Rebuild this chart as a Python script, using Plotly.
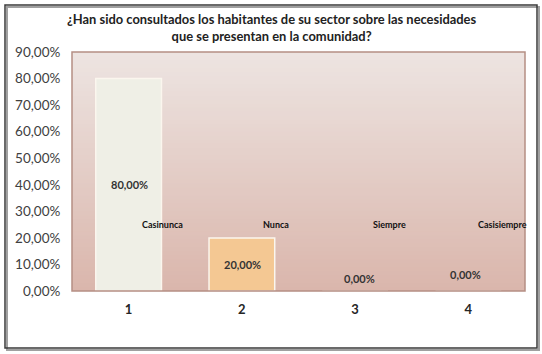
import plotly.graph_objects as go

# ---- data ----
categories = ["1", "2", "3", "4"]
series_names = ["Casi nunca", "Nunca", "Siempre", "Casi siempre"]
values = [0.80, 0.20, 0.00, 0.00]
bar_colors = ["#efefe6", "#f4c893", "#efefe6", "#efefe6"]
y_ticks = [0, 0.1, 0.2, 0.3, 0.4, 0.5, 0.6, 0.7, 0.8, 0.9]
title_text = "¿Han sido consultados los habitantes de su sector sobre las necesidades<br>que se presentan en la comunidad?"

W, H = 542, 354
ml, mr, mt, mb = 72, 17, 52, 63
pw, ph = W - ml - mr, H - mt - mb

def px_x(p):
    return (p - ml) / pw

def px_y(p):
    return (H - mb - p) / ph

def fmt_pct(v):
    return "{:.2f}".format(v * 100).replace(".", ",") + "%"

idx = list(range(len(categories)))

fig = go.Figure()
fig.add_trace(go.Bar(
    x=idx, y=values,
    marker=dict(color=bar_colors, line=dict(color="#fbf6ee", width=1.5)),
    width=0.58,
    hoverinfo="skip",
))

shapes = []
# gradient background of plot area
top_c = (237, 228, 225)
bot_c = (218, 182, 172)
n = 60
for i in range(n):
    t = i / (n - 1)
    c = tuple(int(round(top_c[k] + (bot_c[k] - top_c[k]) * t)) for k in range(3))
    shapes.append(dict(type="rect", xref="x domain", yref="y domain",
                       x0=0, x1=1, y0=max(0, 1 - (i + 1) / n - 0.006), y1=1 - i / n,
                       fillcolor="rgb(%d,%d,%d)" % c, line=dict(width=0), layer="below"))
# plot area border
shapes.append(dict(type="rect", xref="x domain", yref="y domain", x0=0, x1=1, y0=0, y1=1,
                   line=dict(color="#b58f84", width=1.5), layer="above"))
# outer frame shadow and frame
shapes.append(dict(type="rect", xref="paper", yref="paper",
                   x0=px_x(7), x1=px_x(539), y0=px_y(350), y1=px_y(7),
                   line=dict(color="#a0a0a0", width=2), layer="above"))
shapes.append(dict(type="rect", xref="paper", yref="paper",
                   x0=px_x(5), x1=px_x(537), y0=px_y(348), y1=px_y(5),
                   line=dict(color="#3a3a3a", width=1.5), layer="above"))

annotations = []
label_font = dict(family="Lato", size=11, color="#333333")
for i, v in zip(idx, values):
    if v > 0:
        annotations.append(dict(x=i, y=v / 2, xref="x", yref="y", text="<b>" + fmt_pct(v) + "</b>",
                                showarrow=False, font=label_font, xshift=1))
    else:
        annotations.append(dict(x=i, y=v, xref="x", yref="y", text="<b>" + fmt_pct(v) + "</b>",
                                showarrow=False, font=label_font, yanchor="bottom",
                                yshift=4 if i == 2 else 8, xshift=4 if i == 2 else -3))
for i, s in zip(idx, series_names):
    annotations.append(dict(x=i, y=px_y(224), xref="x", yref="paper", yanchor="middle",
                            text="<b>%s</b>" % s.replace(" ", ""),
                            showarrow=False, font=dict(family="Lato", size=9, color="#111111"),
                            xshift=34))

fig.update_layout(
    width=W, height=H,
    margin=dict(l=ml, r=mr, t=mt, b=mb),
    paper_bgcolor="white",
    plot_bgcolor="rgba(0,0,0,0)",
    separators=",.",
    showlegend=False,
    title=dict(text="<b>" + title_text + "</b>", x=px_x(299), xanchor="center",
               y=1 - 24 / H, yanchor="top",
               font=dict(family="Lato", size=12.9, color="#222222")),
    xaxis=dict(range=[-0.5, len(categories) - 0.5], tickvals=idx, ticktext=["<b>%s</b>" % c for c in categories],
               showgrid=False, showline=False, zeroline=False,
               ticks="outside", ticklen=6, tickcolor="rgba(0,0,0,0)",
               tickfont=dict(family="Lato", size=13, color="#262626")),
    yaxis=dict(range=[0, 0.9], tickvals=y_ticks, tickformat=".2%", showgrid=False,
               showline=False, zeroline=False,
               ticks="outside", ticklen=8, tickcolor="rgba(0,0,0,0)",
               tickfont=dict(family="Lato", size=13.5, color="#404040")),
    shapes=shapes,
    annotations=annotations,
)

fig.write_html("out.html", config={"displayModeBar": False},
               post_script="document.body.style.margin='0';document.body.style.overflow='hidden';")
